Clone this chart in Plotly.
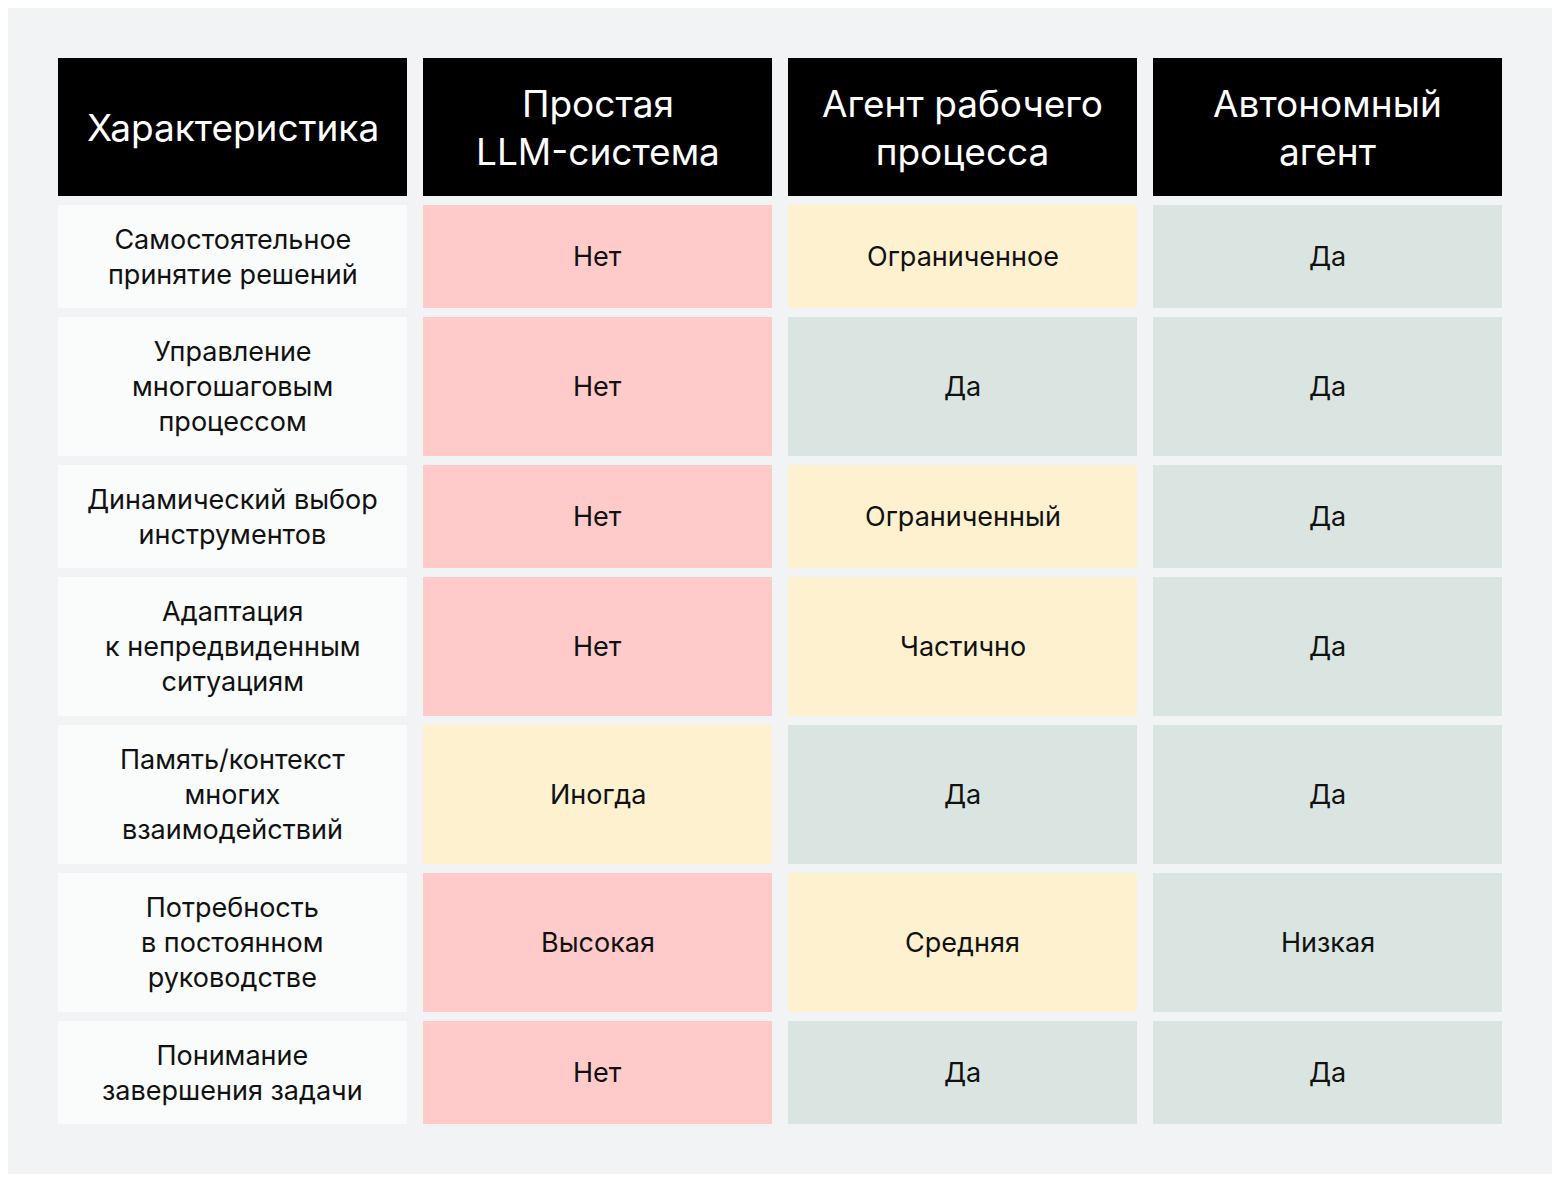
import plotly.graph_objects as go

headers = ["Характеристика", "Простая<br>LLM-система", "Агент рабочего<br>процесса", "Автономный<br>агент"]
features = [
    "Самостоятельное<br>принятие решений",
    "Управление<br>многошаговым<br>процессом",
    "Динамический выбор<br>инструментов",
    "Адаптация<br>к непредвиденным<br>ситуациям",
    "Память/контекст<br>многих<br>взаимодействий",
    "Потребность<br>в постоянном<br>руководстве",
    "Понимание<br>завершения задачи",
]
llm = ["Нет", "Нет", "Нет", "Нет", "Иногда", "Высокая", "Нет"]
workflow = ["Ограниченное", "Да", "Ограниченный", "Частично", "Да", "Средняя", "Да"]
autonomous = ["Да", "Да", "Да", "Да", "Да", "Низкая", "Да"]
# rating: 0 = no, 1 = partial, 2 = yes
llm_level = [0, 0, 0, 0, 1, 0, 0]
workflow_level = [1, 2, 1, 1, 2, 1, 2]
autonomous_level = [2, 2, 2, 2, 2, 2, 2]

level_colors = {0: "#ffcaca", 1: "#fdf1d0", 2: "#dae5e1"}
HEADER_H = 138
row_h = [103, 139, 103, 139, 139, 139, 103]
GAP = 9
FONT = "Inter, Noto Sans, sans-serif"

tops = [0]
heights = [HEADER_H]
y = HEADER_H + GAP
for h in row_h:
    tops.append(y)
    heights.append(h)
    y += h + GAP
total_h = y - GAP

columns = [features, llm, workflow, autonomous]
levels = [None, llm_level, workflow_level, autonomous_level]

xs, bases, hs, colors = [], [], [], []
annotations = []
for c in range(4):
    xs.append(c); bases.append(tops[0]); hs.append(heights[0]); colors.append("#000000")
    annotations.append(dict(x=c, y=tops[0] + heights[0] / 2, text=headers[c], showarrow=False,
                            font=dict(size=37, color="white", family=FONT)))
    for r in range(len(features)):
        col = "#fafbfb" if c == 0 else level_colors[levels[c][r]]
        xs.append(c); bases.append(tops[r + 1]); hs.append(heights[r + 1]); colors.append(col)
        annotations.append(dict(x=c, y=tops[r + 1] + heights[r + 1] / 2, text=columns[c][r],
                                showarrow=False,
                                font=dict(size=27, color="#111111", family=FONT)))

fig = go.Figure(go.Bar(x=xs, y=hs, base=bases, marker=dict(color=colors, line=dict(width=0)),
                       width=349 / 365, hoverinfo="skip"))

pitch_units = 1444 / 365
fig.update_layout(
    width=1544, height=1166,
    paper_bgcolor="#f2f3f5", plot_bgcolor="#f2f3f5",
    margin=dict(l=50, r=50, t=50, b=1166 - 50 - total_h),
    xaxis=dict(range=[-349 / 365 / 2, -349 / 365 / 2 + pitch_units], visible=False, fixedrange=True),
    yaxis=dict(range=[total_h, 0], visible=False, fixedrange=True),
    annotations=annotations,
    showlegend=False,
    bargap=0,
)
fig.write_html("out.html")
